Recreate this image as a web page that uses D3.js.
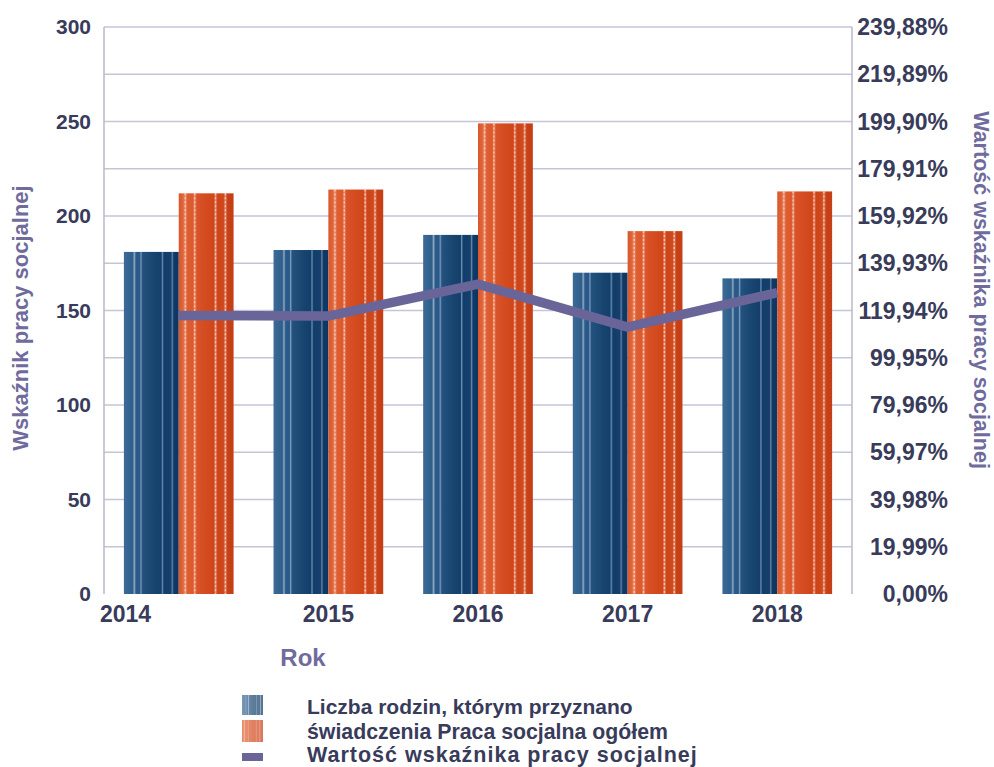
<!DOCTYPE html>
<html>
<head>
<meta charset="utf-8">
<script src="https://cdn.jsdelivr.net/npm/d3@7"></script>
<style>
  body { margin: 0; background: #fff; }
  svg text { font-family: Arial, "Liberation Sans", sans-serif; font-weight: bold; }
</style>
</head>
<body>
<div id="chart"></div>
<script>
// data
const years = ['2014', '2015', '2016', '2017', '2018'];
const families = [181, 182, 190, 170, 167];
const benefits = [212, 214, 249, 192, 213];
const indicator = [117.8, 117.6, 131.1, 112.9, 127.5];
const leftTicks = [0, 50, 100, 150, 200, 250, 300];
const rightTicks = [0, 19.99, 39.98, 59.97, 79.96, 99.95, 119.94, 139.93, 159.92, 179.91, 199.90, 219.89, 239.88];
const seriesNames = ['Liczba rodzin, którym przyznano', 'świadczenia Praca socjalna ogółem', 'Wartość wskaźnika pracy socjalnej'];

const width = 994, height = 767;
const margin = { top: 27, right: 142, bottom: 173, left: 104 };
const plotW = width - margin.left - margin.right;
const plotH = height - margin.top - margin.bottom;

const tickColor = '#383b5a';
const titleColor = '#6f6b9c';
const gridColor = '#c6c5d8';
const lineColor = '#6a6598';

const svg = d3.select('#chart').append('svg')
    .attr('width', width)
    .attr('height', height);

const defs = svg.append('defs');

// blue bar gradient with light stripes
const blueStops = [
    [0, '#3d6b96'], [0.16, '#2f5e8c'], [0.19, '#8ea9c4'], [0.22, '#2c5b89'],
    [0.29, '#28578a'], [0.31, '#7b99b8'], [0.34, '#24527f'],
    [0.55, '#17456f'], [0.68, '#123f6c'], [0.70, '#6c8bac'], [0.73, '#113e6c'],
    [0.86, '#173f6a'], [0.88, '#6584a6'], [0.91, '#0e3a68'], [1, '#0c3764']
];
const blueGrad = defs.append('linearGradient').attr('id', 'blueGrad');
blueGrad.selectAll('stop').data(blueStops).join('stop')
    .attr('offset', d => d[0]).attr('stop-color', d => d[1]);

// orange bar gradient
const orangeStops = [
    [0, '#d9562a'], [0.08, '#e0653a'], [0.12, '#eb9676'], [0.16, '#dd5e32'],
    [0.26, '#dc5a2c'], [0.29, '#ea9172'], [0.33, '#d9532a'],
    [0.5, '#d34b1e'], [0.64, '#d0461a'], [0.67, '#e4876a'], [0.71, '#cc4419'],
    [0.82, '#cf4a1e'], [0.85, '#e48a6c'], [0.89, '#c84016'], [1, '#c53e15']
];
const orangeGrad = defs.append('linearGradient').attr('id', 'orangeGrad');
orangeGrad.selectAll('stop').data(orangeStops).join('stop')
    .attr('offset', d => d[0]).attr('stop-color', d => d[1]);

const chart = svg.append('g').attr('transform', `translate(${margin.left}, ${margin.top})`);

const x = d3.scaleBand().domain(years).range([0, plotW]).paddingInner(0.267).paddingOuter(0.133);
const xSub = d3.scaleBand().domain(['families', 'benefits']).range([0, x.bandwidth()]);
const y = d3.scaleLinear().domain([0, 300]).range([plotH, 0]);
const yRight = d3.scaleLinear().domain([0, 239.88]).range([plotH, 0]);

// gridlines every 25
chart.append('g')
    .selectAll('line')
    .data(d3.range(25, 301, 25))
    .join('line')
    .attr('x1', 0).attr('x2', plotW)
    .attr('y1', d => y(d)).attr('y2', d => y(d))
    .attr('stroke', gridColor).attr('stroke-width', 1.5);

// axis lines
chart.append('line').attr('x1', 0).attr('x2', 0).attr('y1', 0).attr('y2', plotH)
    .attr('stroke', '#b9b8cb').attr('stroke-width', 1.5);
chart.append('line').attr('x1', plotW).attr('x2', plotW).attr('y1', 0).attr('y2', plotH)
    .attr('stroke', '#b9b8cb').attr('stroke-width', 1.5);

// bars
const groups = chart.selectAll('.year')
    .data(years.map((yr, i) => ({ yr, families: families[i], benefits: benefits[i] })))
    .join('g')
    .attr('class', 'year')
    .attr('transform', d => `translate(${x(d.yr)}, 0)`);

groups.append('rect')
    .attr('x', xSub('families'))
    .attr('y', d => y(d.families))
    .attr('width', xSub.bandwidth())
    .attr('height', d => plotH - y(d.families))
    .attr('fill', 'url(#blueGrad)');

groups.append('rect')
    .attr('x', xSub('benefits'))
    .attr('y', d => y(d.benefits))
    .attr('width', xSub.bandwidth())
    .attr('height', d => plotH - y(d.benefits))
    .attr('fill', 'url(#orangeGrad)');

// speckled highlights on orange bars
[0.12, 0.29, 0.67, 0.85].forEach(f => {
    groups.append('line')
        .attr('x1', xSub('benefits') + f * xSub.bandwidth())
        .attr('x2', xSub('benefits') + f * xSub.bandwidth())
        .attr('y1', d => y(d.benefits))
        .attr('y2', plotH)
        .attr('stroke', '#fbd0bd')
        .attr('stroke-width', 1.5)
        .attr('stroke-dasharray', '2,2')
        .attr('opacity', 0.8);
});

// indicator line
const line = d3.line()
    .x((d, i) => x(years[i]) + x.bandwidth() / 2)
    .y(d => yRight(d));

chart.append('path')
    .datum(indicator)
    .attr('fill', 'none')
    .attr('stroke', lineColor)
    .attr('stroke-width', 9.5)
    .attr('d', line);

// left tick labels
chart.append('g')
    .selectAll('text')
    .data(leftTicks)
    .join('text')
    .attr('x', -13)
    .attr('y', d => y(d) + 7)
    .attr('text-anchor', 'end')
    .attr('fill', tickColor)
    .attr('font-size', 21)
    .text(d => d);

// right tick labels
const fmt = d => d.toFixed(2).replace('.', ',') + '%';
chart.append('g')
    .selectAll('text')
    .data(rightTicks)
    .join('text')
    .attr('x', plotW + 96)
    .attr('y', d => yRight(d) + 8)
    .attr('text-anchor', 'end')
    .attr('fill', tickColor)
    .attr('font-size', 23)
    .text(fmt);

// x labels (first one sits at the axis start, as in the original)
chart.append('g')
    .selectAll('text')
    .data(years)
    .join('text')
    .attr('x', (d, i) => i === 0 ? -4 : x(d) + x.bandwidth() / 2)
    .attr('y', plotH + 28)
    .attr('text-anchor', (d, i) => i === 0 ? 'start' : 'middle')
    .attr('fill', tickColor)
    .attr('font-size', 23)
    .text(d => d);

// axis titles
svg.append('text')
    .attr('x', 303).attr('y', 666)
    .attr('text-anchor', 'middle')
    .attr('fill', titleColor)
    .attr('font-size', 24)
    .text('Rok');

svg.append('text')
    .attr('transform', 'translate(28, 318) rotate(-90)')
    .attr('text-anchor', 'middle')
    .attr('fill', titleColor)
    .attr('font-size', 22)
    .text('Wskaźnik pracy socjalnej');

svg.append('text')
    .attr('transform', 'translate(974, 290) rotate(90)')
    .attr('text-anchor', 'middle')
    .attr('fill', titleColor)
    .attr('font-size', 21.5)
    .text('Wartość wskaźnika pracy socjalnej');

// legend
const legend = svg.append('g');
legend.append('rect').attr('x', 242).attr('y', 695).attr('width', 21).attr('height', 20)
    .attr('fill', 'url(#blueGrad)').attr('opacity', 0.7);
legend.append('rect').attr('x', 242).attr('y', 720).attr('width', 21).attr('height', 22)
    .attr('fill', 'url(#orangeGrad)').attr('opacity', 0.7);
legend.append('rect').attr('x', 242).attr('y', 753).attr('width', 21).attr('height', 8)
    .attr('fill', lineColor);

legend.selectAll('text')
    .data(seriesNames)
    .join('text')
    .attr('x', 307)
    .attr('y', (d, i) => [714, 739, 762][i])
    .attr('fill', tickColor)
    .attr('font-size', (d, i) => [21, 21.3, 21.5][i])
    .attr('letter-spacing', (d, i) => i === 2 ? 1 : 0)
    .text(d => d);
</script>
</body>
</html>
